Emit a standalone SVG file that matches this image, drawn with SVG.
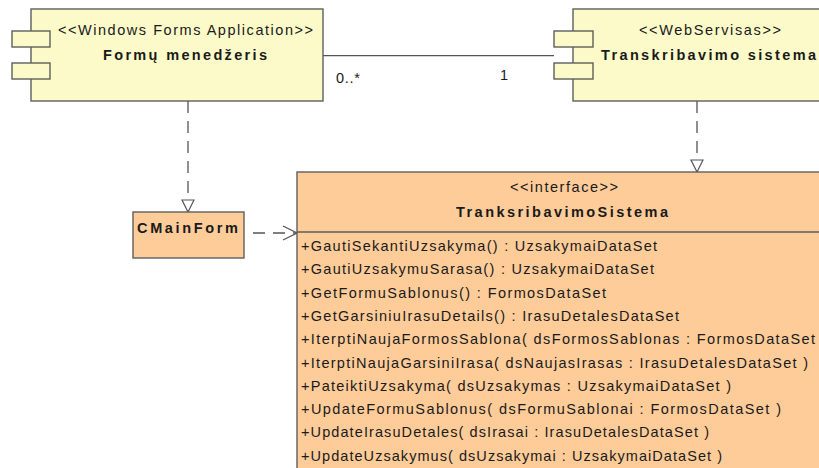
<svg xmlns="http://www.w3.org/2000/svg" width="819" height="468" viewBox="0 0 819 468">
<style>
.comp{fill:#FCFAC9;stroke:#5e5e5e;stroke-width:1.4}
.cls{fill:#FECC99;stroke:#5e5e5e;stroke-width:1.4}
.t{font-family:"Liberation Sans",Arial,sans-serif;font-size:14.5px;fill:#1a1a1a}
.b{font-weight:bold;font-size:14.5px}
.c{stroke:#555;stroke-width:1.3;fill:none}
.d{stroke-dasharray:12 8}
</style>
<defs>
<marker id="tri" viewBox="0 0 14 14" refX="13" refY="7" markerWidth="14" markerHeight="14" markerUnits="userSpaceOnUse" orient="auto">
<path d="M1,1 L13,7 L1,13 Z" fill="#fff" stroke="#555" stroke-width="1.2"/>
</marker>
<marker id="open" viewBox="0 0 16 16" refX="15" refY="8" markerWidth="16" markerHeight="16" markerUnits="userSpaceOnUse" orient="auto">
<path d="M1,1 L15,8 L1,15" fill="none" stroke="#555" stroke-width="1.3"/>
</marker>
</defs>
<rect width="819" height="468" fill="#fff"/>

<g id="connectors">
<line class="c" x1="323" y1="55.7" x2="554" y2="55.7"/>
<text class="t" x="336" y="83" textLength="24" lengthAdjust="spacing">0..*</text>
<text class="t" x="500" y="80">1</text>
<line class="c d" x1="188" y1="101" x2="188" y2="212" marker-end="url(#tri)"/>
<line class="c d" x1="697" y1="101" x2="697" y2="172" marker-end="url(#tri)"/>
<line class="c d" x1="253" y1="233" x2="297" y2="233" stroke-dasharray="18 12" marker-end="url(#open)"/>
</g>

<g id="formu-menedzeris">
<rect class="comp" x="31" y="9" width="292" height="92"/>
<rect class="comp" x="12" y="31" width="38" height="16"/>
<rect class="comp" x="12" y="63" width="38" height="16"/>
<text class="t" x="58" y="35" textLength="255" lengthAdjust="spacing">&lt;&lt;Windows Forms Application&gt;&gt;</text>
<text class="t b" x="103" y="60" textLength="164" lengthAdjust="spacing">Formų menedžeris</text>
</g>

<g id="transkribavimo-sistema">
<rect class="comp" x="573" y="9" width="260" height="92"/>
<rect class="comp" x="554" y="31" width="39" height="16"/>
<rect class="comp" x="554" y="63" width="39" height="16"/>
<text class="t" x="639" y="35" textLength="142" lengthAdjust="spacing">&lt;&lt;WebServisas&gt;&gt;</text>
<text class="t b" x="601" y="60" textLength="215" lengthAdjust="spacing">Transkribavimo sistema</text>
</g>

<g id="cmainform">
<rect class="cls" x="133" y="212" width="111" height="46"/>
<text class="t b" x="137" y="232.5" textLength="101" lengthAdjust="spacing">CMainForm</text>
</g>

<g id="transkribavimo-sistema-interface">
<rect class="cls" x="297" y="172" width="540" height="310"/>
<line x1="297" y1="232" x2="837" y2="232" stroke="#5e5e5e" stroke-width="1.4"/>
<text class="t" x="510" y="192" textLength="108" lengthAdjust="spacing">&lt;&lt;interface&gt;&gt;</text>
<text class="t b" x="456" y="216.5" textLength="212" lengthAdjust="spacing">TranksribavimoSistema</text>
<text class="t" x="301" y="251" textLength="356" lengthAdjust="spacing">+GautiSekantiUzsakyma() : UzsakymaiDataSet</text>
<text class="t" x="301" y="274.3" textLength="353" lengthAdjust="spacing">+GautiUzsakymuSarasa() : UzsakymaiDataSet</text>
<text class="t" x="301" y="297.6" textLength="305" lengthAdjust="spacing">+GetFormuSablonus() : FormosDataSet</text>
<text class="t" x="301" y="320.9" textLength="378" lengthAdjust="spacing">+GetGarsiniuIrasuDetails() : IrasuDetalesDataSet</text>
<text class="t" x="301" y="344.2" textLength="514" lengthAdjust="spacing">+IterptiNaujaFormosSablona( dsFormosSablonas : FormosDataSet</text>
<text class="t" x="301" y="367.5" textLength="507" lengthAdjust="spacing">+IterptiNaujaGarsiniIrasa( dsNaujasIrasas : IrasuDetalesDataSet )</text>
<text class="t" x="301" y="390.8" textLength="430" lengthAdjust="spacing">+PateiktiUzsakyma( dsUzsakymas : UzsakymaiDataSet )</text>
<text class="t" x="301" y="414.1" textLength="480" lengthAdjust="spacing">+UpdateFormuSablonus( dsFormuSablonai : FormosDataSet )</text>
<text class="t" x="301" y="437.4" textLength="408" lengthAdjust="spacing">+UpdateIrasuDetales( dsIrasai : IrasuDetalesDataSet )</text>
<text class="t" x="301" y="460.7" textLength="421" lengthAdjust="spacing">+UpdateUzsakymus( dsUzsakymai : UzsakymaiDataSet )</text>
</g>
</svg>
